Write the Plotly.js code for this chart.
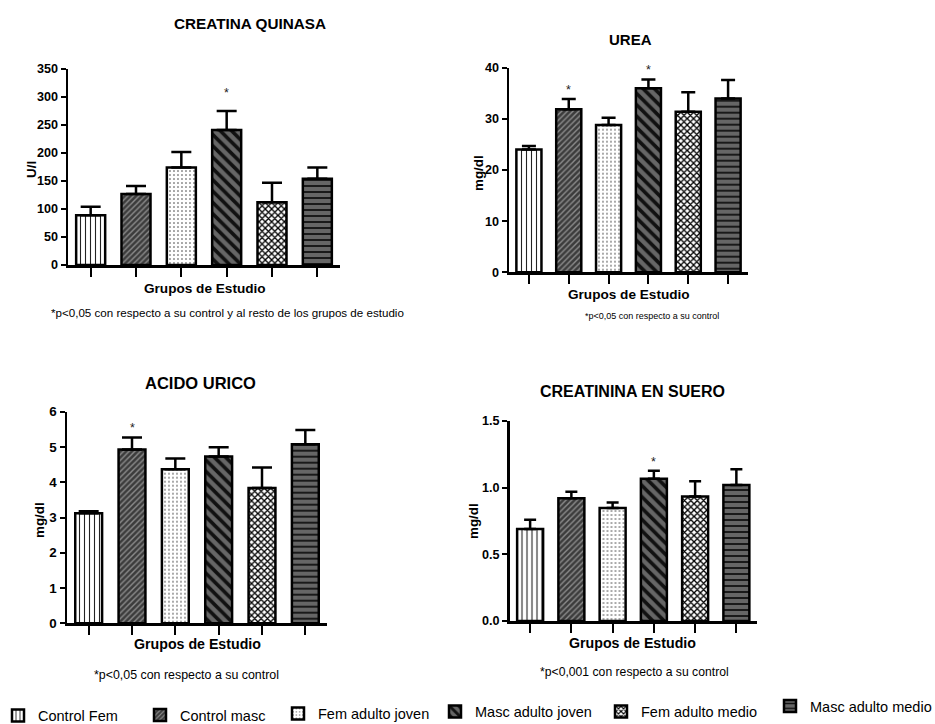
<!DOCTYPE html>
<html><head><meta charset="utf-8">
<script src="https://cdn.plot.ly/plotly-3.0.1.min.js"></script>
<style>html,body{margin:0;padding:0;background:#fff}</style>
</head><body><div id="chart" style="width:935px;height:724px"></div>
<script>
// ---------- DATA ----------
const categories = ["Control Fem", "Control masc", "Fem adulto joven", "Masc adulto joven", "Fem adulto medio", "Masc adulto medio"];

const ckValues = [89, 127, 174, 241, 112, 154];
const ckErrors = [15, 14, 28, 34, 35, 20];
const ckStars = [3];

const ureaValues = [24.0, 31.9, 28.8, 36.0, 31.4, 34.0];
const ureaErrors = [0.7, 2.0, 1.4, 1.7, 3.8, 3.6];
const ureaStars = [1, 3];

const acidoValues = [3.12, 4.93, 4.37, 4.73, 3.84, 5.08];
const acidoErrors = [0.06, 0.34, 0.30, 0.26, 0.58, 0.40];
const acidoStars = [1];

const creatValues = [0.69, 0.92, 0.848, 1.067, 0.933, 1.02];
const creatErrors = [0.07, 0.05, 0.04, 0.06, 0.115, 0.118];
const creatStars = [3];

const panelTitles = ["CREATINA QUINASA", "UREA", "ACIDO URICO", "CREATININA EN SUERO"];
const yTitles = ["U/l", "mg/dl", "mg/dl", "mg/dl"];
const xTitle = "Grupos de Estudio";
const footnotes = [
  "*p<0,05 con respecto a su control y al resto de los grupos de estudio",
  "*p<0,05 con respecto a su control",
  "*p<0,05 con respecto a su control",
  "*p<0,001 con respecto a su control"
];

// ---------- STYLE ----------
const FONT = "Liberation Sans, Arial, sans-serif";
const W = 935, H = 724;

const patterns = [
  {shape: "|", bgcolor: "#ffffff", fgcolor: "#222222", size: 5, solidity: 0.22, fillmode: "replace"},
  {shape: "/", bgcolor: "#3c3c3c", fgcolor: "#8c8c8c", size: 4, solidity: 0.35, fillmode: "replace"},
  {shape: ".", bgcolor: "#ffffff", fgcolor: "#333333", size: 4, solidity: 0.12, fillmode: "replace"},
  {shape: "\\", bgcolor: "#666666", fgcolor: "#111111", size: 8, solidity: 0.45, fillmode: "replace"},
  {shape: "x", bgcolor: "#ffffff", fgcolor: "#000000", size: 4.5, solidity: 0.5, fillmode: "replace"},
  {shape: "-", bgcolor: "#666666", fgcolor: "#111111", size: 6, solidity: 0.3, fillmode: "replace"}
];

// pixel geometry of each panel: [xLeft, xRight, yBottom(px), yTop(px)]
const panels = [
  {vals: ckValues, errs: ckErrors, stars: ckStars, range: [0, 350], dtick: 50, fmt: "", geo: [68, 340, 265, 69],
   barw: 0.64, capw: 10, starShift: 9, tickSize: 12.6, titleSize: 15.3, titleXY: [250, 23], yTitleXY: [31, 170],
   xTitleXY: [205, 289], xTitleSize: 13.6, footXY: [227, 312], footSize: 11.6},
  {vals: ureaValues, errs: ureaErrors, stars: ureaStars, range: [0, 40], dtick: 10, fmt: "", geo: [509, 748, 272.3, 67.7],
   barw: 0.63, capw: 7, starShift: 0, tickSize: 12.6, titleSize: 15, titleXY: [630, 40], yTitleXY: [478, 173],
   xTitleXY: [629, 294], xTitleSize: 13.6, footXY: [652, 316], footSize: 9},
  {vals: acidoValues, errs: acidoErrors, stars: acidoStars, range: [0, 6], dtick: 1, fmt: "", geo: [67, 327, 623.3, 411.7],
   barw: 0.62, capw: 10, starShift: 0, tickSize: 13.4, titleSize: 16.5, titleXY: [200, 382.5], yTitleXY: [39, 520],
   xTitleXY: [197, 644], xTitleSize: 14.2, footXY: [186, 675], footSize: 12.4},
  {vals: creatValues, errs: creatErrors, stars: creatStars, range: [0, 1.5], dtick: 0.5, fmt: ".1f", geo: [509.5, 757, 621, 421],
   barw: 0.63, capw: 6, starShift: 0, tickSize: 12.6, titleSize: 16, titleXY: [632, 391], yTitleXY: [473, 521],
   xTitleXY: [632, 643], xTitleSize: 14.2, footXY: [634, 672], footSize: 12.2}
];

const legendPos = [[40, 715.5], [182, 715], [320, 713.5], [477, 711.5], [643, 711.5], [812, 706]];

const px = x => x / W;
const py = y => 1 - y / H;

const traces = [];
const annotations = [];
const layout = {
  width: W, height: H,
  margin: {l: 0, r: 0, t: 0, b: 0, autoexpand: false},
  paper_bgcolor: "#ffffff", plot_bgcolor: "#ffffff",
  barmode: "overlay",
  annotations: annotations,
  font: {family: FONT, color: "#000"}
};

panels.forEach((p, pi) => {
  const sfx = pi === 0 ? "" : String(pi + 1);
  const xa = "x" + sfx, ya = "y" + sfx;
  layout["xaxis" + sfx] = {
    domain: [px(p.geo[0]), px(p.geo[1])], anchor: ya, type: "category",
    categoryorder: "array", categoryarray: categories,
    range: [-0.5, 5.5], showline: true, linecolor: "#000", linewidth: 2.5,
    ticks: "outside", ticklen: 9, tickwidth: 2, tickcolor: "#000",
    showticklabels: false, showgrid: false, zeroline: false, fixedrange: true, automargin: false
  };
  layout["yaxis" + sfx] = {
    domain: [py(p.geo[2]), py(p.geo[3])], anchor: xa,
    range: p.range, dtick: p.dtick, tick0: 0, tickformat: p.fmt,
    showline: true, linecolor: "#000", linewidth: 2.5,
    ticks: "outside", ticklen: 5, tickwidth: 2, tickcolor: "#000",
    tickfont: {family: FONT, size: p.tickSize, color: "#000", weight: "bold"},
    showgrid: false, zeroline: false, fixedrange: true, automargin: false
  };
  categories.forEach((c, i) => {
    traces.push({
      type: "bar", x: [c], y: [p.vals[i]], name: c,
      xaxis: xa, yaxis: ya, width: p.barw,
      legend: i === 0 ? "legend" : "legend" + (i + 1),
      showlegend: pi === 0,
      marker: {color: patterns[i].bgcolor, pattern: patterns[i], line: {color: "#000", width: 2.5}},
      error_y: {type: "data", symmetric: false, array: [p.errs[i]], arrayminus: [0],
                color: "#000", thickness: 2.5, width: p.capw},
      hoverinfo: "skip"
    });
  });
  p.stars.forEach(i => {
    annotations.push({xref: xa, yref: ya, x: categories[i], y: p.vals[i] + p.errs[i],
      text: "*", showarrow: false, yanchor: "bottom", yshift: p.starShift,
      font: {family: FONT, size: 12.5, color: "#222"}});
  });
  annotations.push({xref: "paper", yref: "paper", x: px(p.titleXY[0]), y: py(p.titleXY[1]),
    xanchor: "center", yanchor: "middle", text: panelTitles[pi], showarrow: false,
    font: {family: FONT, size: p.titleSize, color: "#000", weight: "bold"}});
  annotations.push({xref: "paper", yref: "paper", x: px(p.yTitleXY[0]), y: py(p.yTitleXY[1]),
    xanchor: "center", yanchor: "middle", text: yTitles[pi], showarrow: false, textangle: -90,
    font: {family: FONT, size: 13.4, color: "#000", weight: "bold"}});
  annotations.push({xref: "paper", yref: "paper", x: px(p.xTitleXY[0]), y: py(p.xTitleXY[1]),
    xanchor: "center", yanchor: "middle", text: xTitle, showarrow: false,
    font: {family: FONT, size: p.xTitleSize, color: "#000", weight: "bold"}});
  annotations.push({xref: "paper", yref: "paper", x: px(p.footXY[0]), y: py(p.footXY[1]),
    xanchor: "center", yanchor: "middle", text: footnotes[pi], showarrow: false,
    font: {family: FONT, size: p.footSize, color: "#000"}});
});

legendPos.forEach((lp, i) => {
  const key = i === 0 ? "legend" : "legend" + (i + 1);
  layout[key] = {
    x: px(lp[0] - 42), y: py(lp[1]), xanchor: "left", yanchor: "middle",
    orientation: "h", bgcolor: "rgba(0,0,0,0)", borderwidth: 0, itemwidth: 30,
    font: {family: FONT, size: 14.5, color: "#000"}, itemclick: false, itemdoubleclick: false
  };
});

Plotly.newPlot("chart", traces, layout, {displayModeBar: false, staticPlot: true});
</script>
</body></html>
